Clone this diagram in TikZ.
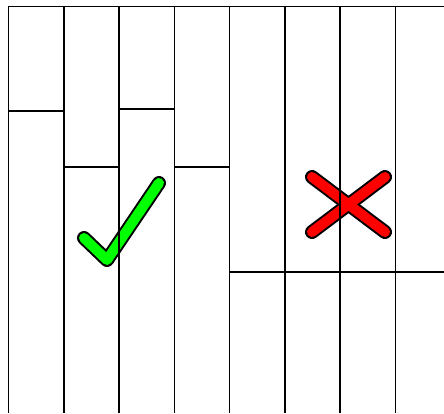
\documentclass[tikz,border=0pt]{standalone}
\definecolor{okgreen}{HTML}{00FF00}
\definecolor{badred}{HTML}{FF0000}
\begin{document}
\begin{tikzpicture}[x=1pt,y=-1pt,
  grid/.style={line width=1.6pt, black},
  markout/.style={line width=14pt, black, line cap=round, line join=round},
  markin/.style={line width=10pt, line cap=round, line join=round}]
\useasboundingbox (0,0) rectangle (444,413);
\fill[white] (0,0) rectangle (444,413);
% check mark
\coordinate (c1) at (84,238);
\coordinate (c2) at (107,260);
\coordinate (c3) at (159,183);
\draw[markout] (c1) -- (c2) -- (c3);
\draw[markin, okgreen] (c1) -- (c2) -- (c3);
% cross
\coordinate (x1) at (312,177);
\coordinate (x2) at (385,232);
\coordinate (x3) at (385,177);
\coordinate (x4) at (312,232);
\draw[markout] (x1) -- (x2);
\draw[markout] (x3) -- (x4);
\draw[markin, badred] (x1) -- (x2);
\draw[markin, badred] (x3) -- (x4);
% grid on top
\foreach \x in {8.5,64,119,174.5,229.5,285,340,395.5}
  \draw[grid] (\x,6.5) -- (\x,413);
\draw[grid] (7.7,6.5) -- (444,6.5);
\draw[grid] (8.5,111) -- (64,111);
\draw[grid] (64,167) -- (119,167);
\draw[grid] (119,109) -- (174.5,109);
\draw[grid] (174.5,167) -- (229.5,167);
\draw[grid] (229.5,272) -- (444,272);
\end{tikzpicture}
\end{document}
